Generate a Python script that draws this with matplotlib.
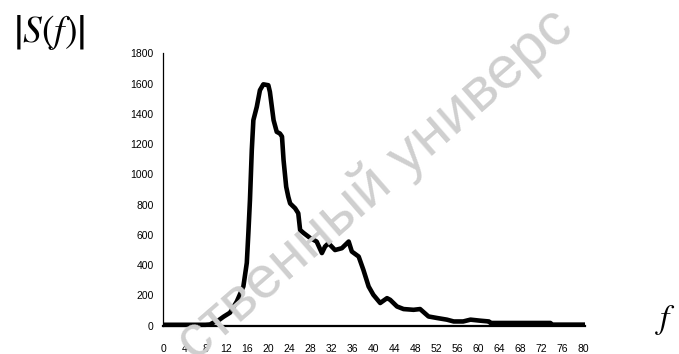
import matplotlib
matplotlib.use("Agg")
import matplotlib.pyplot as plt

# Traced spectrum |S(f)|
freq = [0, 4, 8, 8.9, 9.5, 10.5, 11.5, 12.7, 14.0, 15.25, 15.9, 16.2, 16.5, 16.85,
        17.15, 17.8, 18.4, 19.05, 20.0, 20.3, 21.0, 21.6, 22.2, 22.6, 22.9, 23.4,
        23.8, 24.15, 24.8, 25.1, 25.7, 26.05, 26.7, 27.95, 29.2, 30.2, 30.8, 31.45,
        32.7, 34.0, 35.3, 35.9, 37.2, 38.1, 39.1, 40.0, 41.3, 42.6, 43.2, 44.5,
        45.75, 47.65, 48.9, 50.5, 52.1, 54.0, 55.3, 57.1, 58.5, 60.4, 62.0, 62.3,
        73.7, 74.1, 80.3]
amplitude = [6, 6, 6, 8, 20, 35, 60, 86, 160, 260, 415, 613, 830, 1160,
             1358, 1446, 1556, 1595, 1589, 1545, 1358, 1281, 1270, 1250, 1094, 918,
             852, 808, 786, 776, 743, 633, 613, 580, 556, 480, 523, 545,
             500, 512, 556, 490, 457, 369, 259, 204, 150, 182, 171, 127,
             110, 105, 110, 61, 51, 40, 28, 28, 40, 33, 28, 18,
             18, 7, 7]

x_ticks = list(range(0, 81, 4))
y_ticks = list(range(0, 1801, 200))

W, H = 679, 354
fig = plt.figure(figsize=(W / 100, H / 100), dpi=100)
fig.patch.set_facecolor("white")

x0, x1 = 163.3, 585.0
ytop, ybot = 53.3, 325.7
ax = fig.add_axes([x0 / W, (H - ybot) / H, (x1 - x0) / W, (ybot - ytop) / H])

# watermark (visible part)
fig.text(195 / W, (H - 362) / H, "ственный универс", color="#cfcfcf",
         fontsize=43, family="Liberation Sans", rotation=41,
         rotation_mode="anchor", ha="left", va="baseline", zorder=0)

ax.patch.set_alpha(0)
ax.plot(freq, amplitude, color="black", lw=3.3, solid_joinstyle="round",
        solid_capstyle="butt", zorder=3, clip_on=False)

ax.set_xlim(0, 80.3)
ax.set_ylim(0, 1800)
ax.set_xticks(x_ticks)
ax.set_yticks(y_ticks)
ax.set_xticklabels([str(v) for v in x_ticks], family="Liberation Sans", fontsize=7.5)
ax.set_yticklabels([str(v) for v in y_ticks], family="Liberation Sans", fontsize=7.5)
ax.tick_params(axis="x", length=0, pad=13)
ax.tick_params(axis="y", length=0, pad=7)
for s in ("top", "right"):
    ax.spines[s].set_visible(False)
ax.spines["left"].set_linewidth(0.9)
ax.spines["bottom"].set_linewidth(1.6)
ax.spines["left"].set_color("black")
ax.spines["bottom"].set_color("black")

plt.rcParams["mathtext.fontset"] = "stix"
fig.text(13 / W, (H - 33) / H, r"$\left|S\left(f\right)\right|$", fontsize=27,
         ha="left", va="center")
fig.text(666 / W, (H - 320) / H, r"$f$", fontsize=24, ha="center", va="center")

fig.savefig("out.png", dpi=100, facecolor="white")
